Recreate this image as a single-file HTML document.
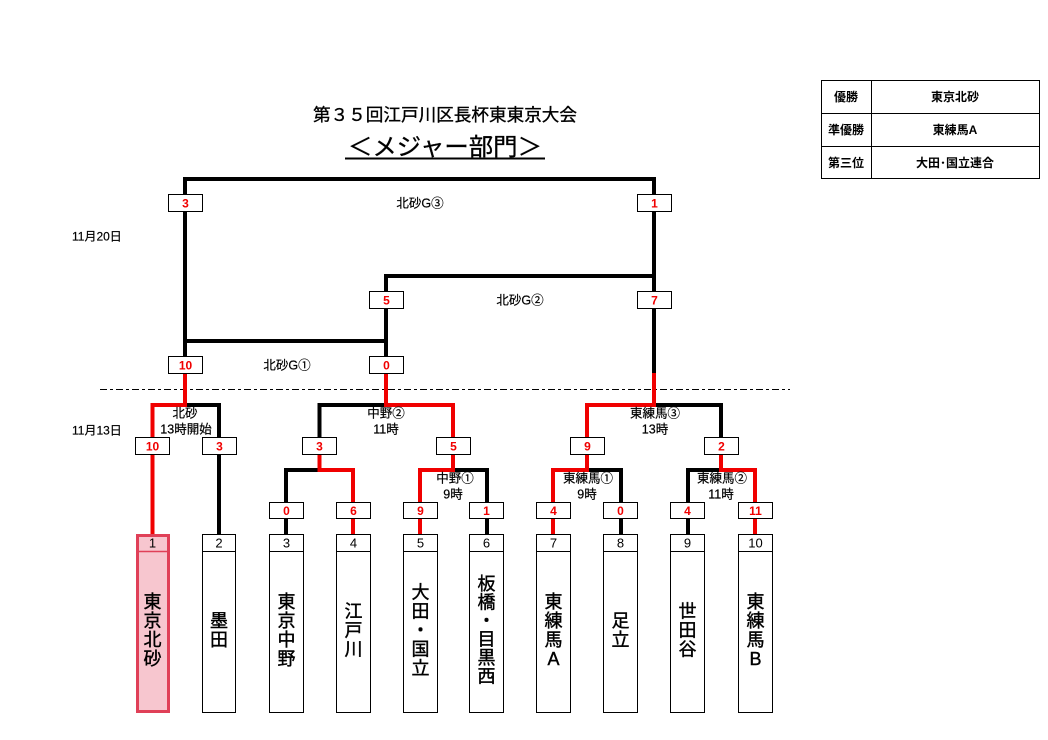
<!DOCTYPE html>
<html><head><meta charset="utf-8"><style>
html,body{margin:0;padding:0;background:#fff;}
svg{display:block;}
text{font-family:"Liberation Sans","Noto Sans CJK JP",sans-serif;}
</style></head><body>
<svg width="1048" height="740" viewBox="0 0 1048 740" xmlns="http://www.w3.org/2000/svg">
<rect width="1048" height="740" fill="#fff"/>
<!-- Title -->
<text x="445" y="121" font-size="17.6" text-anchor="middle" textLength="264" lengthAdjust="spacingAndGlyphs" fill="#000" stroke="#000" stroke-width="0.35">第３５回江戸川区長杯東東京大会</text>
<text x="445" y="155" font-size="24" text-anchor="middle" textLength="194" lengthAdjust="spacingAndGlyphs" fill="#000" stroke="#000" stroke-width="0.3">＜メジャー部門＞</text>
<rect x="345" y="157.5" width="200" height="2" fill="#000"/>

<!-- Results table -->
<g stroke="#000" stroke-width="1" fill="none">
<rect x="821.5" y="80.5" width="218" height="98"/>
<line x1="821" y1="113.5" x2="1040" y2="113.5"/>
<line x1="821" y1="146.5" x2="1040" y2="146.5"/>
<line x1="871.5" y1="80" x2="871.5" y2="179"/>
</g>
<g font-size="12" font-weight="bold" text-anchor="middle" fill="#000">
<text x="846" y="101">優勝</text>
<text x="955" y="101">東京北砂</text>
<text x="846" y="134">準優勝</text>
<text x="955" y="134">東練馬A</text>
<text x="846" y="167">第三位</text>
<text x="955" y="167">大田･国立連合</text>
</g>

<!-- dashed separator -->
<line x1="100" y1="389.5" x2="790" y2="389.5" stroke="#000" stroke-width="1" stroke-dasharray="7 3 3 3"/>

<!-- bracket lines -->
<g fill="none" stroke-width="4" stroke-linejoin="miter" stroke-linecap="square">
<path d="M185,364 V179 H654 V373" stroke="#000"/>
<path d="M185,341 H386" stroke="#000"/>
<path d="M386,364 V276 H654" stroke="#000"/>
<path d="M185,405 H219 V532" stroke="#000"/>
<path d="M319.5,445 V405 H386" stroke="#000"/>
<path d="M286,532 V470 H319.5" stroke="#000"/>
<path d="M453,470 H487 V532" stroke="#000"/>
<path d="M654,405 H721 V445" stroke="#000"/>
<path d="M587,470 H621 V532" stroke="#000"/>
<path d="M721,470 H688 V532" stroke="#000"/>
<path d="M185,366 V405" stroke="#f00000"/>
<path d="M386,366 V405" stroke="#f00000"/>
<path d="M654,375 V405" stroke="#f00000"/>
<path d="M152.5,532 V405 H185" stroke="#f00000"/>
<path d="M319.5,447 V470 H353 V532" stroke="#f00000"/>
<path d="M386,405 H453 V470 H420 V532" stroke="#f00000"/>
<path d="M654,405 H587 V470 H553 V532" stroke="#f00000"/>
<path d="M721,447 V470 H755 V532" stroke="#f00000"/>
</g>

<!-- score boxes -->
<g fill="#fff" stroke="#000" stroke-width="1">
<rect x="168.5" y="194.5" width="34" height="17"/>
<rect x="637.5" y="194.5" width="34" height="17"/>
<rect x="369.5" y="291.5" width="34" height="17"/>
<rect x="637.5" y="291.5" width="34" height="17"/>
<rect x="168.5" y="356.5" width="34" height="17"/>
<rect x="369.5" y="356.5" width="34" height="17"/>
<rect x="135.5" y="437.5" width="34" height="17"/>
<rect x="202.5" y="437.5" width="34" height="17"/>
<rect x="302.5" y="437.5" width="34" height="17"/>
<rect x="436.5" y="437.5" width="34" height="17"/>
<rect x="570.5" y="437.5" width="34" height="17"/>
<rect x="704.5" y="437.5" width="34" height="17"/>
<rect x="269.5" y="502.5" width="34" height="16"/>
<rect x="336.5" y="502.5" width="34" height="16"/>
<rect x="403.5" y="502.5" width="34" height="16"/>
<rect x="469.5" y="502.5" width="34" height="16"/>
<rect x="536.5" y="502.5" width="34" height="16"/>
<rect x="603.5" y="502.5" width="34" height="16"/>
<rect x="670.5" y="502.5" width="34" height="16"/>
<rect x="738.5" y="502.5" width="34" height="16"/>
</g>
<g font-size="12" font-weight="bold" fill="#f00000" text-anchor="middle">
<text x="185.5" y="207.5">3</text>
<text x="654.5" y="207.5">1</text>
<text x="386.5" y="304.5">5</text>
<text x="654.5" y="304.5">7</text>
<text x="185.5" y="369.5">10</text>
<text x="386.5" y="369.5">0</text>
<text x="152.5" y="450.5">10</text>
<text x="219.5" y="450.5">3</text>
<text x="319.5" y="450.5">3</text>
<text x="453.5" y="450.5">5</text>
<text x="587.5" y="450.5">9</text>
<text x="721.5" y="450.5">2</text>
<text x="286.5" y="515">0</text>
<text x="353.5" y="515">6</text>
<text x="420.5" y="515">9</text>
<text x="486.5" y="515">1</text>
<text x="553.5" y="515">4</text>
<text x="620.5" y="515">0</text>
<text x="687.5" y="515">4</text>
<text x="755.5" y="515">11</text>
</g>

<!-- labels -->
<g font-size="12.5" fill="#000" stroke="#000" stroke-width="0.2" text-anchor="middle">
<text x="420" y="207.5">北砂G③</text>
<text x="520" y="304.5">北砂G②</text>
<text x="287" y="369.5">北砂G①</text>
<text x="185" y="417.5">北砂</text>
<text x="186" y="433.5">13時開始</text>
<text x="386" y="417.5">中野②</text>
<text x="386" y="433.5">11時</text>
<text x="655" y="417.5">東練馬③</text>
<text x="655" y="433.5">13時</text>
<text x="455" y="482.5">中野①</text>
<text x="453" y="498.5">9時</text>
<text x="588" y="482.5">東練馬①</text>
<text x="587" y="498.5">9時</text>
<text x="722" y="482.5">東練馬②</text>
<text x="721" y="498.5">11時</text>
</g>
<g font-size="12" fill="#000" stroke="#000" stroke-width="0.2">
<text x="72" y="240.5">11月20日</text>
<text x="72" y="434.5">11月13日</text>
</g>

<!-- team boxes -->
<rect x="137.5" y="535.5" width="31" height="176" fill="#f7c6cf" stroke="#e04058" stroke-width="3"/>
<line x1="137" y1="551.5" x2="169" y2="551.5" stroke="#e04058" stroke-width="1.5"/>
<g fill="#fff" stroke="#000" stroke-width="1">
<rect x="202.5" y="534.5" width="33" height="178"/>
<rect x="269.5" y="534.5" width="34" height="178"/>
<rect x="336.5" y="534.5" width="34" height="178"/>
<rect x="403.5" y="534.5" width="34" height="178"/>
<rect x="469.5" y="534.5" width="34" height="178"/>
<rect x="536.5" y="534.5" width="34" height="178"/>
<rect x="603.5" y="534.5" width="34" height="178"/>
<rect x="670.5" y="534.5" width="34" height="178"/>
<rect x="738.5" y="534.5" width="34" height="178"/>
</g>
<g stroke="#000" stroke-width="1">
<line x1="202" y1="551.5" x2="236" y2="551.5"/>
<line x1="269" y1="551.5" x2="304" y2="551.5"/>
<line x1="336" y1="551.5" x2="371" y2="551.5"/>
<line x1="403" y1="551.5" x2="438" y2="551.5"/>
<line x1="469" y1="551.5" x2="504" y2="551.5"/>
<line x1="536" y1="551.5" x2="571" y2="551.5"/>
<line x1="603" y1="551.5" x2="638" y2="551.5"/>
<line x1="670" y1="551.5" x2="705" y2="551.5"/>
<line x1="738" y1="551.5" x2="773" y2="551.5"/>
</g>
<g font-size="13" fill="#000" text-anchor="middle">
<text x="152.5" y="547.5">1</text>
<text x="219" y="547.5">2</text>
<text x="286.5" y="547.5">3</text>
<text x="353.5" y="547.5">4</text>
<text x="420.5" y="547.5">5</text>
<text x="486.5" y="547.5">6</text>
<text x="553.5" y="547.5">7</text>
<text x="620.5" y="547.5">8</text>
<text x="687.5" y="547.5">9</text>
<text x="755.5" y="547.5">10</text>
</g>
<g font-size="18" fill="#000" stroke="#000" stroke-width="0.4" text-anchor="middle">
<text x="152.5" y="608">東</text><text x="152.5" y="627">京</text><text x="152.5" y="646">北</text><text x="152.5" y="665">砂</text>
<text x="219" y="627">墨</text><text x="219" y="646">田</text>
<text x="286.5" y="608">東</text><text x="286.5" y="627">京</text><text x="286.5" y="646">中</text><text x="286.5" y="665">野</text>
<text x="353.5" y="617.5">江</text><text x="353.5" y="636.5">戸</text><text x="353.5" y="655.5">川</text>
<text x="420.5" y="598.5">大</text><text x="420.5" y="617.5">田</text><text x="420.5" y="636.5">・</text><text x="420.5" y="655.5">国</text><text x="420.5" y="674.5">立</text>
<text x="486.5" y="590">板</text><text x="486.5" y="608.5">橋</text><text x="486.5" y="627">・</text><text x="486.5" y="645.5">目</text><text x="486.5" y="664">黒</text><text x="486.5" y="682.5">西</text>
<text x="553.5" y="608">東</text><text x="553.5" y="627">練</text><text x="553.5" y="646">馬</text><text x="553.5" y="665">A</text>
<text x="620.5" y="627">足</text><text x="620.5" y="646">立</text>
<text x="687.5" y="617.5">世</text><text x="687.5" y="636.5">田</text><text x="687.5" y="655.5">谷</text>
<text x="755.5" y="608">東</text><text x="755.5" y="627">練</text><text x="755.5" y="646">馬</text><text x="755.5" y="665">B</text>
</g>
</svg>
</body></html>
